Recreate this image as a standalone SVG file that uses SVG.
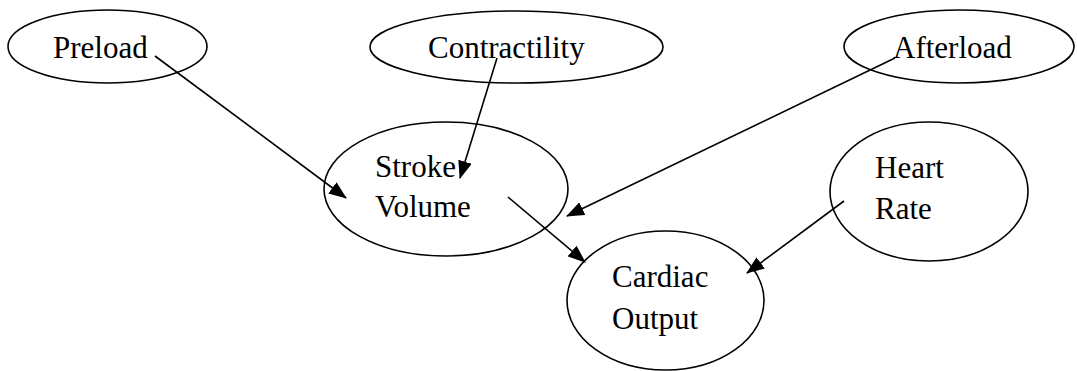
<svg xmlns="http://www.w3.org/2000/svg" width="1077" height="371" viewBox="0 0 1077 371">
<style>
.node ellipse{fill:#fff;stroke:#000;stroke-width:1.6}
.node text{font-family:"Liberation Serif","Times New Roman",serif;font-size:31px;fill:#000}
.edges line{stroke:#000;stroke-width:1.6;marker-end:url(#ah)}
</style>
<defs>
<marker id="ah" markerUnits="userSpaceOnUse" markerWidth="18" markerHeight="14" viewBox="0 0 18 14" refX="17" refY="7" orient="auto">
<path d="M0,0 L18,7 L0,14 Z" fill="#000"/>
</marker>
</defs>
<rect width="1077" height="371" fill="#fff"/>
<g id="preload" class="node"><ellipse cx="107.5" cy="46.5" rx="99.5" ry="36.5"/><text x="53" y="58">Preload</text></g>
<g id="contractility" class="node"><ellipse cx="516.5" cy="47" rx="146.5" ry="36"/><text x="428" y="58">Contractility</text></g>
<g id="afterload" class="node"><ellipse cx="959" cy="46.5" rx="115" ry="36.5"/><text x="893" y="58">Afterload</text></g>
<g id="stroke-volume" class="node"><ellipse cx="446" cy="189" rx="122" ry="67"/><text x="375" y="177">Stroke</text><text x="375" y="217">Volume</text></g>
<g id="heart-rate" class="node"><ellipse cx="929" cy="191.5" rx="99" ry="69.5"/><text x="875" y="178">Heart</text><text x="875" y="219">Rate</text></g>
<g id="cardiac-output" class="node"><ellipse cx="665.5" cy="300.5" rx="98.5" ry="69.5"/><text x="612" y="287">Cardiac</text><text x="612" y="329">Output</text></g>
<g id="connectors" class="edges">
<line x1="155" y1="56" x2="346" y2="198"/>
<line x1="497" y1="58" x2="460" y2="178"/>
<line x1="895" y1="58" x2="567" y2="216"/>
<line x1="508" y1="197" x2="585" y2="262"/>
<line x1="844" y1="201" x2="747" y2="273"/>
</g>
</svg>
